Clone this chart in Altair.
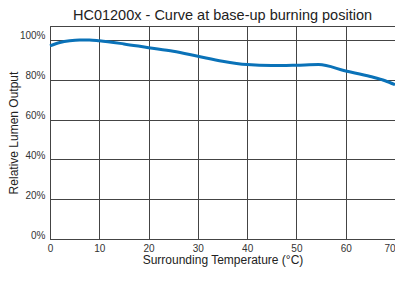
import altair as alt
import pandas as pd

temps = [0, 2, 4, 6, 8, 10, 15, 20, 25, 30, 35, 40, 45, 50, 54.5, 60, 65, 68, 70]
lumen = [97, 98.7, 99.6, 100, 100, 99.6, 98, 96.1, 94.3, 91.8, 89.3, 87.6, 87.1, 87.3, 87.6, 84.4, 81.6, 79.5, 77.5]
x_ticks = [0, 10, 20, 30, 40, 50, 60, 70]
y_ticks = [0, 20, 40, 60, 80, 100]

df = pd.DataFrame({"t": temps, "v": lumen})

FONT = "Liberation Sans"

chart = alt.Chart(df).mark_line(
    color="#0a72b8", strokeWidth=3, interpolate="monotone"
).encode(
    x=alt.X("t:Q", scale=alt.Scale(domain=[0, 70], nice=False, zero=False),
            axis=alt.Axis(values=x_ticks, title="Surrounding Temperature (°C)",
                          ticks=False, labelPadding=4, titlePadding=1,
                          labelFontSize=10, titleFontSize=12, labelFlush=False,
                          labelAlign=alt.ExprRef(expr="datum.value == 70 ? 'right' : 'center'"))),
    y=alt.Y("v:Q", scale=alt.Scale(domain=[0, 107], nice=False),
            axis=alt.Axis(values=y_ticks, title="Relative Lumen Output",
                          labelExpr="datum.value + '%'", ticks=False,
                          labelPadding=5, labelOffset=-4, titlePadding=-1,
                          labelFontSize=10, titleFontSize=12)),
).properties(
    width=345, height=213,
    title=alt.TitleParams("HC01200x - Curve at base-up burning position",
                          fontSize=14.5, font=FONT, fontWeight="normal",
                          color="#222", offset=3, anchor="middle"),
    autosize=alt.AutoSizeParams(type="none"),
    padding={"left": 42, "top": 18, "right": 0, "bottom": 30},
).configure_axis(
    labelFont=FONT, titleFont=FONT, labelColor="#333", titleColor="#222",
    titleFontWeight="normal", grid=True, gridColor="#444", gridOpacity=1,
    domainColor="#444", gridWidth=1,
).configure_view(stroke="#444", strokeWidth=1)

chart.save("out.html", embed_options={"renderer": "svg", "actions": False})
